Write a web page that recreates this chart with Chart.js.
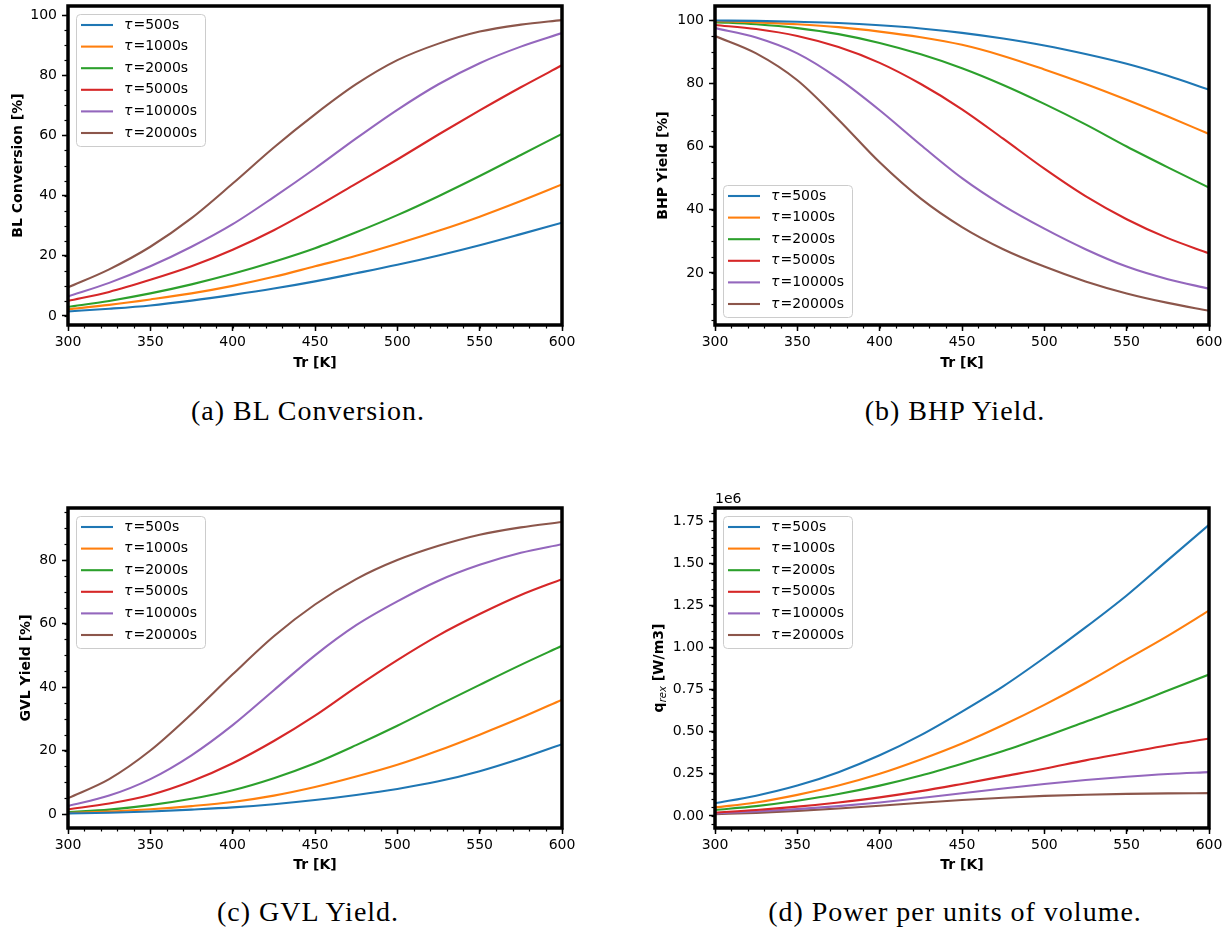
<!DOCTYPE html>
<html>
<head>
<meta charset="utf-8">
<script src="https://cdn.jsdelivr.net/npm/chart.js@4.4.1/dist/chart.umd.min.js"></script>
<style>
  html, body { margin: 0; padding: 0; background: #fff; }
  body { width: 1228px; height: 932px; position: relative; overflow: hidden; }
  canvas { position: absolute; }
  .caption {
    position: absolute; width: 600px; text-align: center;
    font-family: "Liberation Serif", serif; font-size: 28px; letter-spacing: 1px;
    color: #000; line-height: 30px;
  }
</style>
</head>
<body>
<canvas id="chartA" width="580" height="380" style="left:0px;top:0px"></canvas>
<canvas id="chartB" width="580" height="380" style="left:647px;top:0px"></canvas>
<canvas id="chartC" width="580" height="402" style="left:0px;top:480px"></canvas>
<canvas id="chartD" width="580" height="402" style="left:647px;top:480px"></canvas>
<div class="caption" style="left:8px;top:396px">(a) BL Conversion.</div>
<div class="caption" style="left:655px;top:396px">(b) BHP Yield.</div>
<div class="caption" style="left:8px;top:897px">(c) GVL Yield.</div>
<div class="caption" style="left:655px;top:897px">(d) Power per units of volume.</div>
<script>
// du lieu doc tu hinh
const temps = [300, 325, 350, 375, 400, 425, 450, 475, 500, 525, 550, 575, 600];
const tauLabels = ['τ=500s', 'τ=1000s', 'τ=2000s', 'τ=5000s', 'τ=10000s', 'τ=20000s'];
const xTicks = [300, 350, 400, 450, 500, 550, 600];

// (a) BL Conversion [%]
const bl500   = [1.5, 2.4, 3.5, 5.1, 7, 9.1, 11.5, 14.2, 17, 20.1, 23.5, 27.2, 31];
const bl1000  = [2.2, 3.7, 5.5, 7.5, 10, 13, 16.5, 20, 24, 28.3, 33, 38.2, 43.7];
const bl2000  = [3, 5, 7.5, 10.5, 14, 18, 22.5, 27.8, 33.5, 39.8, 46.5, 53.5, 60.5];
const bl5000  = [5, 8, 12, 16.5, 22, 28.5, 36, 44, 52, 60.3, 68.3, 76, 83.3];
const bl10000 = [6.5, 11, 16.5, 23, 30.5, 39.5, 49, 59, 68.5, 77, 84, 89.5, 94];
const bl20000 = [9.5, 15.5, 23, 32.5, 44, 56, 67, 77, 85, 90.5, 94.5, 96.8, 98.3];
const blTicks = [0, 20, 40, 60, 80, 100];

// (b) BHP Yield [%]
const bhp500   = [99.9, 99.8, 99.5, 99.1, 98.4, 97.4, 96, 94.2, 92, 89.3, 86.2, 82.4, 78];
const bhp1000  = [99.7, 99.3, 98.7, 97.8, 96.4, 94.6, 92.2, 88.7, 84.4, 79.8, 74.8, 69.5, 64];
const bhp2000  = [99.4, 98.7, 97.5, 95.6, 92.8, 89.2, 84.8, 79.5, 73.5, 67, 60, 53.4, 47];
const bhp5000  = [98.5, 97.2, 95, 91.5, 86.5, 79.8, 71.8, 62.5, 53, 44.3, 37, 31, 26.2];
const bhp10000 = [97.5, 94.5, 89.5, 81.5, 71.5, 60.5, 50, 41.3, 34, 27.5, 22, 18, 15];
const bhp20000 = [95, 89.5, 81, 68.5, 55, 43.5, 34.5, 27.5, 22, 17.3, 13.5, 10.5, 8];
const bhpTicks = [20, 40, 60, 80, 100];

// (c) GVL Yield [%]
const gvl500   = [0.2, 0.4, 0.8, 1.4, 2.1, 3.1, 4.4, 6, 7.9, 10.3, 13.5, 17.5, 22];
const gvl1000  = [0.3, 0.8, 1.5, 2.5, 3.8, 5.8, 8.5, 11.8, 15.5, 20, 25, 30.3, 36];
const gvl2000  = [0.6, 1.4, 2.8, 4.8, 7.5, 11.3, 16, 21.7, 27.8, 34.3, 40.7, 47, 53];
const gvl5000  = [1.5, 3.3, 6, 10.3, 16, 23, 31, 40, 48.5, 56.3, 63, 69, 74];
const gvl10000 = [2.5, 5.8, 11, 18.5, 28, 39, 50, 59.5, 67, 73.5, 78.5, 82.3, 85];
const gvl20000 = [5, 11, 20, 31.5, 44, 56, 66, 74, 80, 84.5, 88, 90.3, 92];
const gvlTicks = [0, 20, 40, 60, 80];

// (d) q_rex [W/m3], don vi 1e6
const pw500   = [0.075, 0.12, 0.18, 0.26, 0.36, 0.48, 0.62, 0.77, 0.94, 1.12, 1.31, 1.52, 1.73];
const pw1000  = [0.05, 0.08, 0.125, 0.18, 0.25, 0.335, 0.43, 0.54, 0.66, 0.79, 0.93, 1.07, 1.22];
const pw2000  = [0.035, 0.058, 0.09, 0.13, 0.18, 0.24, 0.31, 0.385, 0.47, 0.56, 0.65, 0.745, 0.84];
const pw5000  = [0.02, 0.035, 0.055, 0.08, 0.11, 0.147, 0.19, 0.235, 0.28, 0.33, 0.375, 0.42, 0.46];
const pw10000 = [0.015, 0.026, 0.04, 0.058, 0.08, 0.106, 0.135, 0.163, 0.19, 0.213, 0.233, 0.249, 0.26];
const pw20000 = [0.01, 0.018, 0.03, 0.044, 0.06, 0.078, 0.094, 0.108, 0.119, 0.126, 0.131, 0.134, 0.135];
const powerTicks = [0, 0.25, 0.5, 0.75, 1, 1.25, 1.5, 1.75];

const colors = ['#1f77b4', '#ff7f0e', '#2ca02c', '#d62728', '#9467bd', '#8c564b'];
const FONT = '"DejaVu Sans", sans-serif';

// ve khung truc day
const framePlugin = {
    id: 'frame',
    afterDatasetsDraw(chart) {
        const a = chart.chartArea, ctx = chart.ctx;
        ctx.save();
        ctx.strokeStyle = '#000';
        ctx.lineWidth = 3.5;
        ctx.strokeRect(a.left, a.top, a.right - a.left, a.bottom - a.top);
        ctx.restore();
    }
};

// vach chia phu
const minorTicksPlugin = {
    id: 'minorTicks',
    afterDraw(chart, args, opts) {
        const a = chart.chartArea, ctx = chart.ctx;
        ctx.save();
        ctx.strokeStyle = '#000';
        ctx.lineWidth = 1.2;
        const xs = chart.scales.x, ys = chart.scales.y;
        for (let v = Math.ceil(xs.min / opts.x) * opts.x; v <= xs.max + 1e-9; v += opts.x) {
            const px = Math.round(xs.getPixelForValue(v)) + 0.5;
            ctx.beginPath(); ctx.moveTo(px, a.bottom); ctx.lineTo(px, a.bottom + 3.5); ctx.stroke();
        }
        for (let i = Math.ceil(ys.min / opts.y); i * opts.y <= ys.max + 1e-9; i++) {
            const py = Math.round(ys.getPixelForValue(i * opts.y)) + 0.5;
            ctx.beginPath(); ctx.moveTo(a.left, py); ctx.lineTo(a.left - 3.5, py); ctx.stroke();
        }
        ctx.restore();
    }
};

// chu giai nam trong vung ve
const insideLegendPlugin = {
    id: 'insideLegend',
    afterDraw(chart, args, opts) {
        const a = chart.chartArea, ctx = chart.ctx;
        const w = 129, h = 132;
        const x = a.left + 8;
        const y = opts.position === 'lower' ? a.bottom - 8 - h : a.top + 8;
        ctx.save();
        ctx.beginPath();
        ctx.roundRect(x + 0.5, y + 0.5, w, h, 4);
        ctx.fillStyle = 'rgba(255,255,255,0.8)';
        ctx.fill();
        ctx.strokeStyle = '#cccccc';
        ctx.lineWidth = 1;
        ctx.stroke();
        chart.data.datasets.forEach((ds, i) => {
            const ly = y + 11 + i * 21.6;
            ctx.strokeStyle = ds.borderColor;
            ctx.lineWidth = 2.1;
            ctx.beginPath(); ctx.moveTo(x + 5, ly); ctx.lineTo(x + 37, ly); ctx.stroke();
            ctx.fillStyle = '#000';
            ctx.textBaseline = 'middle';
            ctx.font = 'italic 14px ' + FONT;
            ctx.fillText(ds.label.charAt(0), x + 48, ly);
            const tw = ctx.measureText(ds.label.charAt(0)).width;
            ctx.font = '14px ' + FONT;
            ctx.fillText(ds.label.slice(1), x + 48 + tw + 1, ly);
        });
        ctx.restore();
    }
};

// chu "1e6" va nhan truc y co chi so duoi
const extraTextPlugin = {
    id: 'extraText',
    afterDraw(chart, args, opts) {
        if (!opts.enabled) return;
        const a = chart.chartArea, ctx = chart.ctx;
        ctx.save();
        ctx.fillStyle = '#000';
        ctx.font = '14px ' + FONT;
        ctx.textBaseline = 'alphabetic';
        ctx.fillText('1e6', a.left, a.top - 5);
        ctx.translate(opts.titleX, (a.top + a.bottom) / 2);
        ctx.rotate(-Math.PI / 2);
        ctx.textBaseline = 'middle';
        const boldF = 'bold 14px ' + FONT, subF = 'italic 10px ' + FONT;
        ctx.font = boldF; const w1 = ctx.measureText('q').width;
        ctx.font = subF; const w2 = ctx.measureText('rex').width;
        ctx.font = boldF; const w3 = ctx.measureText(' [W/m3]').width;
        let cx = -(w1 + w2 + w3) / 2;
        ctx.font = boldF; ctx.fillText('q', cx, 0); cx += w1;
        ctx.font = subF; ctx.fillText('rex', cx, 4); cx += w2;
        ctx.font = boldF; ctx.fillText(' [W/m3]', cx, 0);
        ctx.restore();
    }
};

function makeChart(id, series, cfg) {
    const datasets = series.map((vals, i) => ({
        label: tauLabels[i],
        data: temps.map((t, j) => ({ x: t, y: vals[j] })),
        borderColor: colors[i],
        backgroundColor: colors[i],
        borderWidth: 2.1,
        pointRadius: 0,
        cubicInterpolationMode: 'monotone',
        fill: false
    }));
    const ctx = document.getElementById(id).getContext('2d');
    return new Chart(ctx, {
        type: 'line',
        data: { datasets: datasets },
        options: {
            responsive: false,
            animation: false,
            devicePixelRatio: 1,
            layout: { padding: { top: cfg.padTop, right: 18, left: 0, bottom: 0 } },
            plugins: {
                legend: { display: false },
                tooltip: { enabled: false },
                minorTicks: { x: 10, y: cfg.yMinor },
                insideLegend: { position: cfg.legendPos },
                extraText: { enabled: !!cfg.customTitle, titleX: 12 }
            },
            scales: {
                x: {
                    type: 'linear',
                    min: 300, max: 600,
                    afterBuildTicks: s => { s.ticks = xTicks.map(v => ({ value: v })); },
                    afterFit: s => { s.height = cfg.xHeight; s.paddingLeft = 0; s.paddingRight = 0; },
                    grid: { drawOnChartArea: false, drawTicks: true, tickLength: 6, tickWidth: 1.5, tickColor: '#000' },
                    border: { display: false },
                    ticks: { color: '#000', padding: 3, maxRotation: 0, font: { family: FONT, size: 14 } },
                    title: {
                        display: true, text: 'Tr [K]', color: '#000',
                        font: { family: FONT, size: 14, weight: 'bold', lineHeight: 1.2 },
                        padding: { top: 0, bottom: 8.6 }
                    }
                },
                y: {
                    type: 'linear',
                    min: cfg.yMin, max: cfg.yMax,
                    afterBuildTicks: s => { s.ticks = cfg.yTicks.map(v => ({ value: v })); },
                    afterFit: s => { s.width = 68; s.paddingTop = 0; s.paddingBottom = 0; },
                    grid: { drawOnChartArea: false, drawTicks: true, tickLength: 6, tickWidth: 1.5, tickColor: '#000' },
                    border: { display: false },
                    ticks: {
                        color: '#000', padding: 5, font: { family: FONT, size: 14 },
                        callback: cfg.fmt || (v => String(v))
                    },
                    title: {
                        display: !cfg.customTitle, text: cfg.yTitle, color: '#000',
                        font: { family: FONT, size: 14, weight: 'bold', lineHeight: 1.2 },
                        padding: { top: cfg.yTitlePad, bottom: 0 }
                    }
                }
            }
        },
        plugins: [framePlugin, minorTicksPlugin, insideLegendPlugin, extraTextPlugin]
    });
}

makeChart('chartA', [bl500, bl1000, bl2000, bl5000, bl10000, bl20000], {
    yMin: -3, yMax: 103, yTicks: blTicks, yMinor: 5, yTitle: 'BL Conversion [%]',
    yTitlePad: 9.6, xHeight: 55, padTop: 6, legendPos: 'upper'
});
makeChart('chartB', [bhp500, bhp1000, bhp2000, bhp5000, bhp10000, bhp20000], {
    yMin: 3.5, yMax: 104.5, yTicks: bhpTicks, yMinor: 5, yTitle: 'BHP Yield [%]',
    yTitlePad: 7.6, xHeight: 55, padTop: 6, legendPos: 'lower'
});
makeChart('chartC', [gvl500, gvl1000, gvl2000, gvl5000, gvl10000, gvl20000], {
    yMin: -4.4, yMax: 96.4, yTicks: gvlTicks, yMinor: 5, yTitle: 'GVL Yield [%]',
    yTitlePad: 17.6, xHeight: 54, padTop: 28, legendPos: 'upper'
});
makeChart('chartD', [pw500, pw1000, pw2000, pw5000, pw10000, pw20000], {
    yMin: -0.072, yMax: 1.83, yTicks: powerTicks, yMinor: 0.05, yTitle: 'q_rex [W/m3]',
    yTitlePad: 3.6, xHeight: 54, padTop: 28, legendPos: 'upper', customTitle: true,
    fmt: v => v.toFixed(2)
});
</script>
</body>
</html>
